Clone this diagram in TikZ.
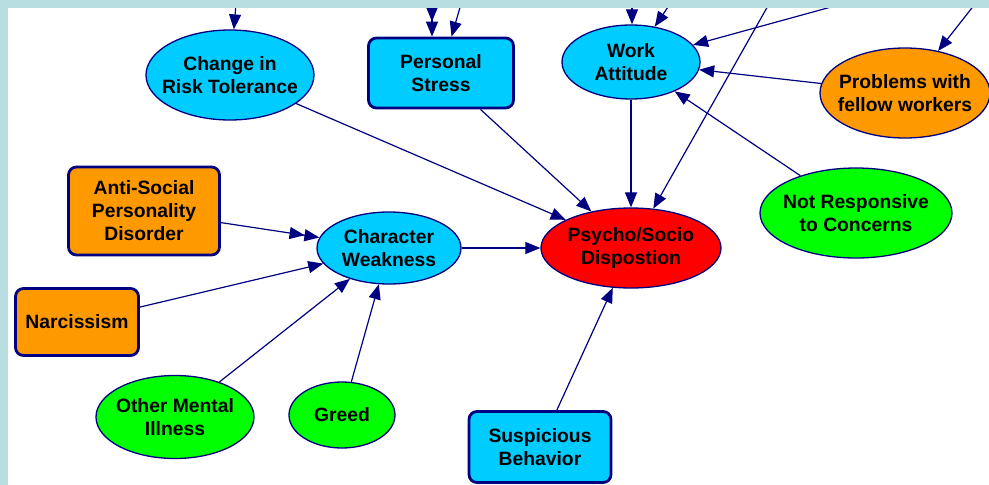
\documentclass[tikz,border=0pt]{standalone}
\usepackage{fontspec}
\setmainfont{Liberation Sans}
\usetikzlibrary{shapes.geometric,arrows.meta}
\definecolor{framec}{RGB}{184,222,226}
\definecolor{cyanf}{RGB}{0,204,255}
\definecolor{orangef}{RGB}{255,153,0}
\definecolor{greenf}{RGB}{0,255,0}
\definecolor{redf}{RGB}{255,0,0}
\definecolor{navyc}{RGB}{0,0,128}
\begin{document}
\begin{tikzpicture}[x=1pt,y=-1pt,
  txt/.style={align=center, inner sep=0pt, text=black, font=\bfseries\fontsize{19.3}{23}\selectfont},
  ell/.style={txt, ellipse, draw=navyc, line width=1.3pt, inner sep=-30pt},
  box/.style={txt, rectangle, rounded corners=8pt, draw=navyc, line width=2.8pt},
  link/.style={draw=navyc, line width=1.2pt, -{Triangle[length=15pt,width=12pt]}},
  dbl/.style={draw=navyc, line width=1.2pt, -{Triangle[length=15pt,width=12pt] Triangle[length=15pt,width=12pt]}}]
\useasboundingbox (0,0) rectangle (989,485);
\fill[white] (0,0) rectangle (989,485);

\node[ell, fill=cyanf, minimum width=168pt, minimum height=90pt] (risk) at (230,75) {Change in\\Risk Tolerance};
\node[box, fill=cyanf, minimum width=145pt, minimum height=70pt] (stress) at (441,73) {Personal\\Stress};
\node[ell, fill=cyanf, minimum width=138pt, minimum height=74pt] (work) at (631,62) {Work\\Attitude};
\node[ell, fill=orangef, minimum width=170pt, minimum height=90pt] (prob) at (905,93) {Problems with\\fellow workers};
\node[ell, fill=greenf, minimum width=192pt, minimum height=90pt] (notresp) at (856,213) {Not Responsive\\to Concerns};
\node[ell, fill=redf, minimum width=180pt, minimum height=80pt] (psycho) at (631,248) {Psycho/Socio\\Dispostion};
\node[box, fill=cyanf, minimum width=142pt, minimum height=71pt] (susp) at (540,447) {Suspicious\\Behavior};
\node[ell, fill=cyanf, minimum width=144pt, minimum height=72pt] (char) at (389,248) {Character\\Weakness};
\node[box, fill=orangef, minimum width=151pt, minimum height=88pt] (anti) at (144,211) {Anti-Social\\Personality\\Disorder};
\node[box, fill=orangef, minimum width=123pt, minimum height=67pt] (narc) at (77,322) {Narcissism};
\node[ell, fill=greenf, minimum width=158pt, minimum height=83pt] (other) at (175,417) {Other Mental\\Illness};
\node[ell, fill=greenf, minimum width=106pt, minimum height=66pt] (greed) at (342,415) {Greed};

\coordinate (inRisk) at (236,4);
\coordinate (inStressA) at (432,4);
\coordinate (inStressB) at (461,4);
\coordinate (inWorkA) at (632,4);
\coordinate (inWorkB) at (670,4);
\coordinate (inWorkC) at (842,4);
\coordinate (inPsycho) at (769,4);
\coordinate (inProb) at (975,4);

\draw[link] (inRisk) -- (risk);
\draw[dbl] (inStressA) -- (inStressA |- stress.north);
\draw[link] (inStressB) -- (stress);
\draw[link] (inWorkA) -- (inWorkA |- work.north);
\draw[link] (inWorkB) -- (work);
\draw[link] (inWorkC) -- (work);
\draw[link] (inPsycho) -- (psycho);
\draw[link] (inProb) -- (prob);

\draw[link] (prob) -- (work);
\draw[link] (notresp) -- (work);
\draw[link] (work) -- (psycho);
\draw[link] (stress) -- (psycho);
\draw[link] (risk) -- (psycho);
\draw[link] (char) -- (psycho);
\draw[link] (susp) -- (psycho);
\draw[dbl] (anti) -- (char);
\draw[link] (narc) -- (char);
\draw[link] (other) -- (char);
\draw[link] (greed) -- (char);

\fill[framec] (0,0) rectangle (989,8);
\fill[framec] (0,0) rectangle (8,485);
\end{tikzpicture}
\end{document}
